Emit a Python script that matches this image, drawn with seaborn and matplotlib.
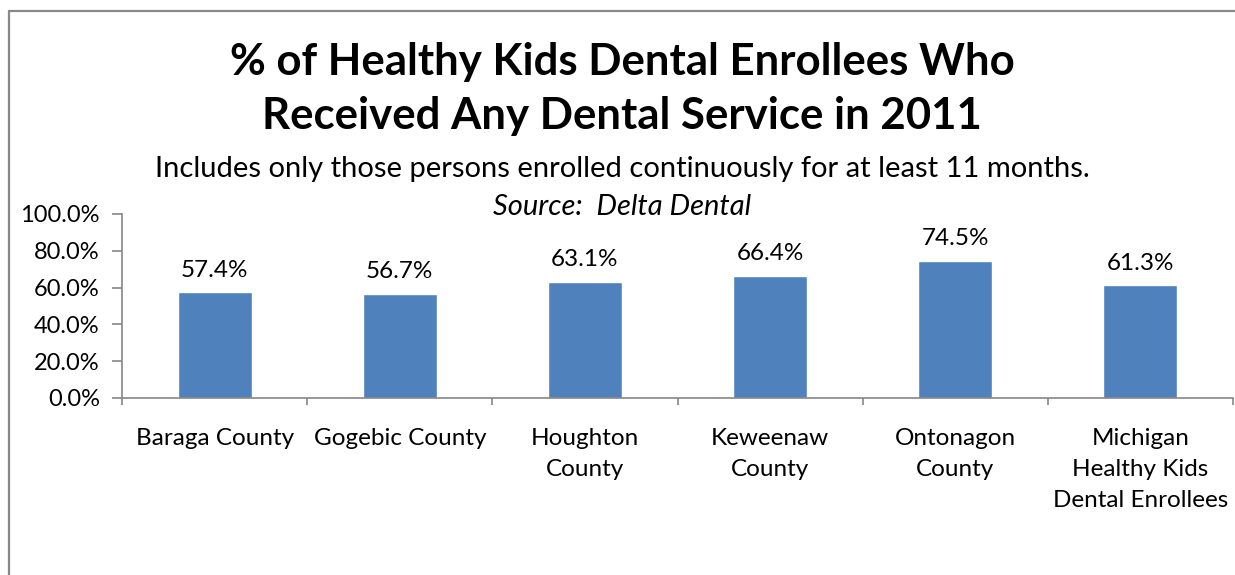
import matplotlib
matplotlib.use("Agg")
import matplotlib.pyplot as plt
from matplotlib.lines import Line2D
from matplotlib.ticker import FuncFormatter, FixedLocator
import seaborn as sns
import pandas as pd

categories = ["Baraga County", "Gogebic County", "Houghton\nCounty", "Keweenaw\nCounty",
              "Ontonagon\nCounty", "Michigan\nHealthy Kids\nDental Enrollees"]
values = [57.4, 56.7, 63.1, 66.4, 74.5, 61.3]
y_ticks = [0, 20, 40, 60, 80, 100]

title_lines = ["% of Healthy Kids Dental Enrollees Who", "Received Any Dental Service in 2011"]
subtitle = "Includes only those persons enrolled continuously for at least 11 months."
source = "Source:  Delta Dental"

sns.set_theme(style="white")
plt.rcParams["font.family"] = ["Lato", "DejaVu Sans"]
plt.rcParams["text.color"] = "black"
plt.rcParams["xtick.color"] = "black"
plt.rcParams["ytick.color"] = "black"

W, H = 1235, 575
fig = plt.figure(figsize=(W / 100, H / 100), dpi=100)
fig.patch.set_facecolor("white")

# frame lines around the chart area
border = "#888888"
fig.add_artist(Line2D([9 / W, 1], [1 - 11 / H, 1 - 11 / H], color=border, lw=1.6))
fig.add_artist(Line2D([9 / W, 9 / W], [0, 1 - 11 / H], color=border, lw=1.6))

ax_left, ax_right, ax_top, ax_bottom = 122, 1233, 214, 398
ax = fig.add_axes([ax_left / W, 1 - ax_bottom / H, (ax_right - ax_left) / W, (ax_bottom - ax_top) / H])

df = pd.DataFrame({"category": categories, "value": values})
sns.barplot(data=df, x="category", y="value", color="#4F81BD", saturation=1,
            width=0.4, ax=ax)

ax.set_xlim(-0.5, len(categories) - 0.5)
ax.set_ylim(0, 100)
ax.set_xlabel("")
ax.set_ylabel("")

axis_grey = "#868686"
for spine in ["top", "right"]:
    ax.spines[spine].set_visible(False)
for spine in ["left", "bottom"]:
    ax.spines[spine].set_color(axis_grey)
    ax.spines[spine].set_linewidth(1.2)

label_size = 17.5
ax.yaxis.set_major_locator(FixedLocator(y_ticks))
ax.yaxis.set_major_formatter(FuncFormatter(lambda v, p: f"{v:.1f}%"))
ax.tick_params(axis="y", which="major", direction="out", length=7, width=1.2,
               color=axis_grey, labelcolor="black", labelsize=17, pad=9, left=True)

ax.set_xticks(range(len(categories)))
ax.set_xticklabels(categories, fontsize=label_size, linespacing=1.58, va="top", color="black")
ax.tick_params(axis="x", which="major", length=0, pad=21.5)
ax.set_xticks([i - 0.5 for i in range(len(categories) + 1)], minor=True)
ax.tick_params(axis="x", which="minor", direction="out", length=5, width=1.2,
               color=axis_grey, bottom=True)

for i, v in enumerate(values):
    ax.text(i, v + 8.4, f"{v:.1f}%", ha="center", va="baseline", fontsize=label_size,
            color="black")

cx = 622 / W
fig.text(cx, 1 - 75 / H, title_lines[0], ha="center", va="baseline", fontsize=31.5,
         fontweight="bold")
fig.text(cx, 1 - 129 / H, title_lines[1], ha="center", va="baseline", fontsize=31.5,
         fontweight="bold")
fig.text(cx, 1 - 177 / H, subtitle, ha="center", va="baseline", fontsize=21)
fig.text(cx, 1 - 215 / H, source, ha="center", va="baseline", fontsize=21, style="italic")

fig.savefig("out.png", dpi=100)
